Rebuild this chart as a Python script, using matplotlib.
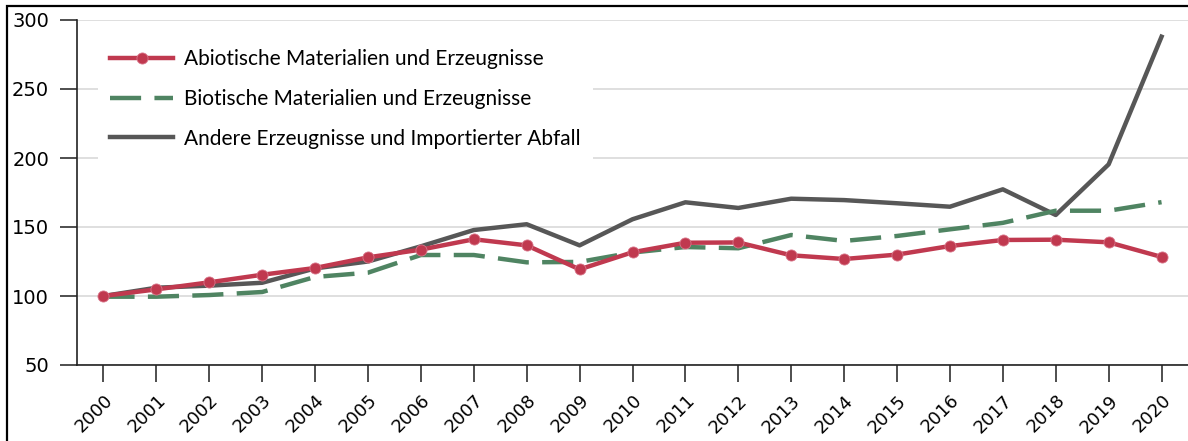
import matplotlib
matplotlib.use('Agg')
from matplotlib import pyplot as plt
from matplotlib.patches import Rectangle

years = [str(y) for y in range(2000, 2021)]
abiotisch = [100, 104.8, 109.9, 115.4, 120.3, 128, 133.6, 141.1, 136.7, 119.3,
             131.7, 138.6, 138.8, 129.5, 126.8, 130, 136.2, 140.6, 140.8, 138.9, 128.3]
biotisch = [99.5, 99.5, 100.7, 102.9, 113.8, 116.9, 129.7, 129.7, 124.4, 124.7,
            131.5, 135.5, 134.6, 144.2, 139.9, 143.5, 148.3, 153, 161.8, 161.8, 168]
andere = [100, 106, 107.5, 109.6, 120, 125, 136, 147.8, 152, 136.7,
          155.6, 167.9, 163.8, 170.5, 169.5, 167.2, 164.7, 177.3, 158.7, 195.4, 287.9]
labels = ['Abiotische Materialien und Erzeugnisse',
          'Biotische Materialien und Erzeugnisse',
          'Andere Erzeugnisse und Importierter Abfall']

red = '#c0394f'
green = '#4f8462'
grey = '#575757'

fig = plt.figure(figsize=(11.88, 4.41), dpi=100)
ax = fig.add_axes([77 / 1188, 1 - 365 / 441, 1 - 77 / 1188, 345 / 441])

x = range(len(years))
l3, = ax.plot(x, andere, color=grey, lw=3.2, solid_joinstyle='round', zorder=3)
l2, = ax.plot(x, biotisch, color=green, lw=3.2, dashes=(7, 3), zorder=4)
l1, = ax.plot(x, abiotisch, color=red, lw=3.2, marker='o', markersize=8,
              markeredgecolor='#d9768a', markeredgewidth=0.6, zorder=5)

ax.set_xlim(-0.5, 20.5)
ax.set_ylim(50, 300)
ax.set_yticks([50, 100, 150, 200, 250, 300])
ax.set_xticks(list(x))
ax.set_xticklabels(years, rotation=45, ha='right', rotation_mode='anchor')
ax.yaxis.grid(True, color='#d9d9d9', lw=1.2)
ax.set_axisbelow(True)
for s in ('top', 'right'):
    ax.spines[s].set_visible(False)
for s in ('left', 'bottom'):
    ax.spines[s].set_color('#222222')
    ax.spines[s].set_linewidth(1.2)
ax.tick_params(axis='both', length=12, width=1.3, color='#404040',
               labelcolor='black')
ax.tick_params(axis='y', labelsize=14, pad=8)
ax.tick_params(axis='x', labelsize=13, pad=7)
for t in ax.get_xticklabels() + ax.get_yticklabels():
    t.set_fontfamily('DejaVu Sans')

leg = ax.legend([l1, l2, l3], labels, loc='upper left',
                bbox_to_anchor=(0.0094, 0.982), prop={'family': 'Lato', 'size': 15},
                handlelength=3.0, handletextpad=0.55, labelspacing=0.95,
                borderpad=0.6, frameon=True, fancybox=False)
leg.get_frame().set_edgecolor('none')
leg.get_frame().set_facecolor('white')
leg.get_frame().set_alpha(1)
leg.set_zorder(2.5)

# black frame around the figure (only left and top visible)
fig.add_artist(Rectangle((7 / 1188, -0.05), 1.1, 1.05 - 6 / 441,
                         transform=fig.transFigure, fill=False,
                         edgecolor='black', lw=1.6, clip_on=False))

fig.savefig('out.png', dpi=100)
